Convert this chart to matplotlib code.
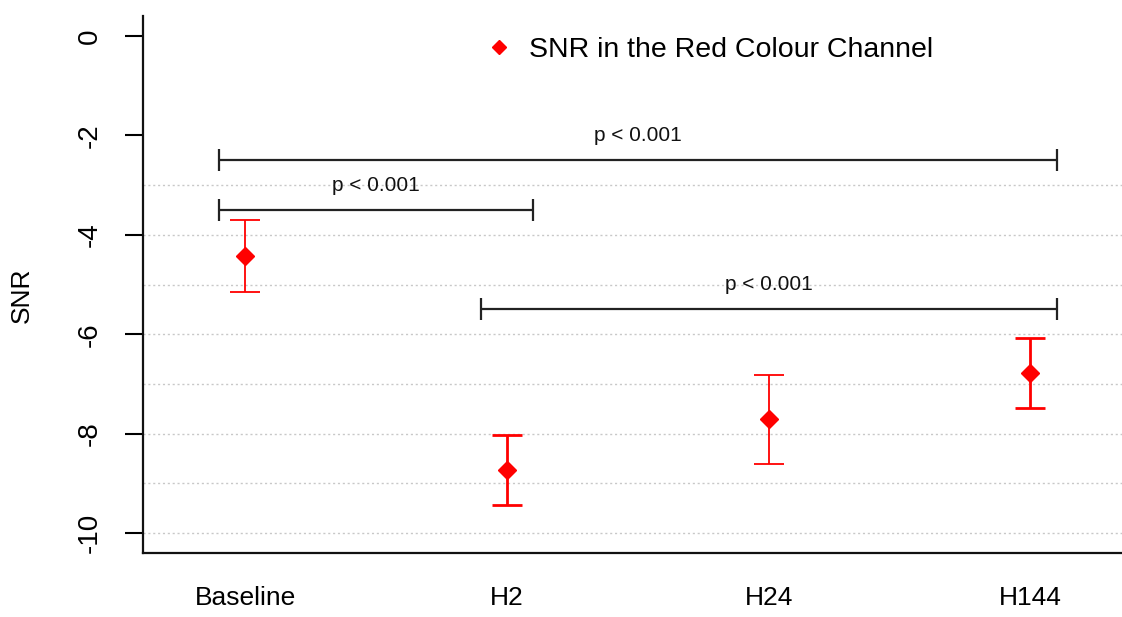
import matplotlib
matplotlib.use("Agg")
import matplotlib.pyplot as plt
import numpy as np

plt.rcParams['font.family'] = ['Liberation Sans', 'DejaVu Sans']

# data
groups = ["Baseline", "H2", "H24", "H144"]
snr_mean = [-4.43, -8.73, -7.71, -6.78]
snr_err = [0.72, 0.71, 0.90, 0.70]
bar_widths = [1.3, 2.0, 1.3, 2.0]

# significance brackets: (from group, to group, height, label)
bracket_from = [0, 0, 1]
bracket_to = [3, 1, 3]
bracket_y = [-2.5, -3.5, -5.5]
bracket_text = ["p < 0.001", "p < 0.001", "p < 0.001"]

y_ticks = [0, -2, -4, -6, -8, -10]
grid_levels = [-3, -4, -5, -6, -7, -8, -9, -10]

fig = plt.figure(figsize=(11.22, 6.17), dpi=100)
ax = fig.add_axes([0.1275, 0.1037, 0.8725, 0.8703])

x = np.arange(1, len(groups) + 1)

# dotted grid
for g in grid_levels:
    ax.axhline(g, color='#c8c8c8', linestyle=(0, (1.5, 2)), linewidth=1.0, zorder=0)

# points with error bars
for i in range(len(groups)):
    ax.errorbar(x[i], snr_mean[i], yerr=snr_err[i], fmt='D', color='#ff0000',
                ms=9, capsize=11, elinewidth=bar_widths[i],
                capthick=bar_widths[i], zorder=3)

# brackets
for a, b, y, t in zip(bracket_from, bracket_to, bracket_y, bracket_text):
    xs = [x[a] - 0.1, x[b] + 0.1]
    ax.plot(xs, [y, y], color='#222222', lw=1.6, marker='|', ms=16, mew=1.6,
            solid_capstyle='butt', zorder=2)
    ax.text(np.mean(xs), y + 0.5, t, ha='center', va='center', fontsize=15,
            color='#111111')

# legend
ax.plot([], [], 'D', color='#ff0000', ms=7, label='SNR in the Red Colour Channel')
ax.legend(loc='center left', bbox_to_anchor=(0.3504, 0.9367), frameon=False,
          fontsize=20.5, handlelength=0.9, handletextpad=0.6, borderpad=0,
          borderaxespad=0, numpoints=1)

ax.set_xlim(0.61, 4.35)
ax.set_ylim(-10.4, 0.4)
ax.set_xticks(x)
ax.set_xticklabels(groups)
ax.set_yticks(y_ticks)
ax.set_yticklabels([str(v) for v in y_ticks], rotation=90, va='center')

ax.tick_params(axis='x', length=0, pad=24, labelsize=19)
ax.tick_params(axis='y', length=13, width=1.5, pad=16, labelsize=20)

for s in ['top', 'right']:
    ax.spines[s].set_visible(False)
for s in ['left', 'bottom']:
    ax.spines[s].set_linewidth(1.6)
    ax.spines[s].set_color('#111111')

ax.set_ylabel('SNR', fontsize=19)
ax.yaxis.set_label_coords(-0.112, 0.48)

fig.savefig('out.png', dpi=100)
